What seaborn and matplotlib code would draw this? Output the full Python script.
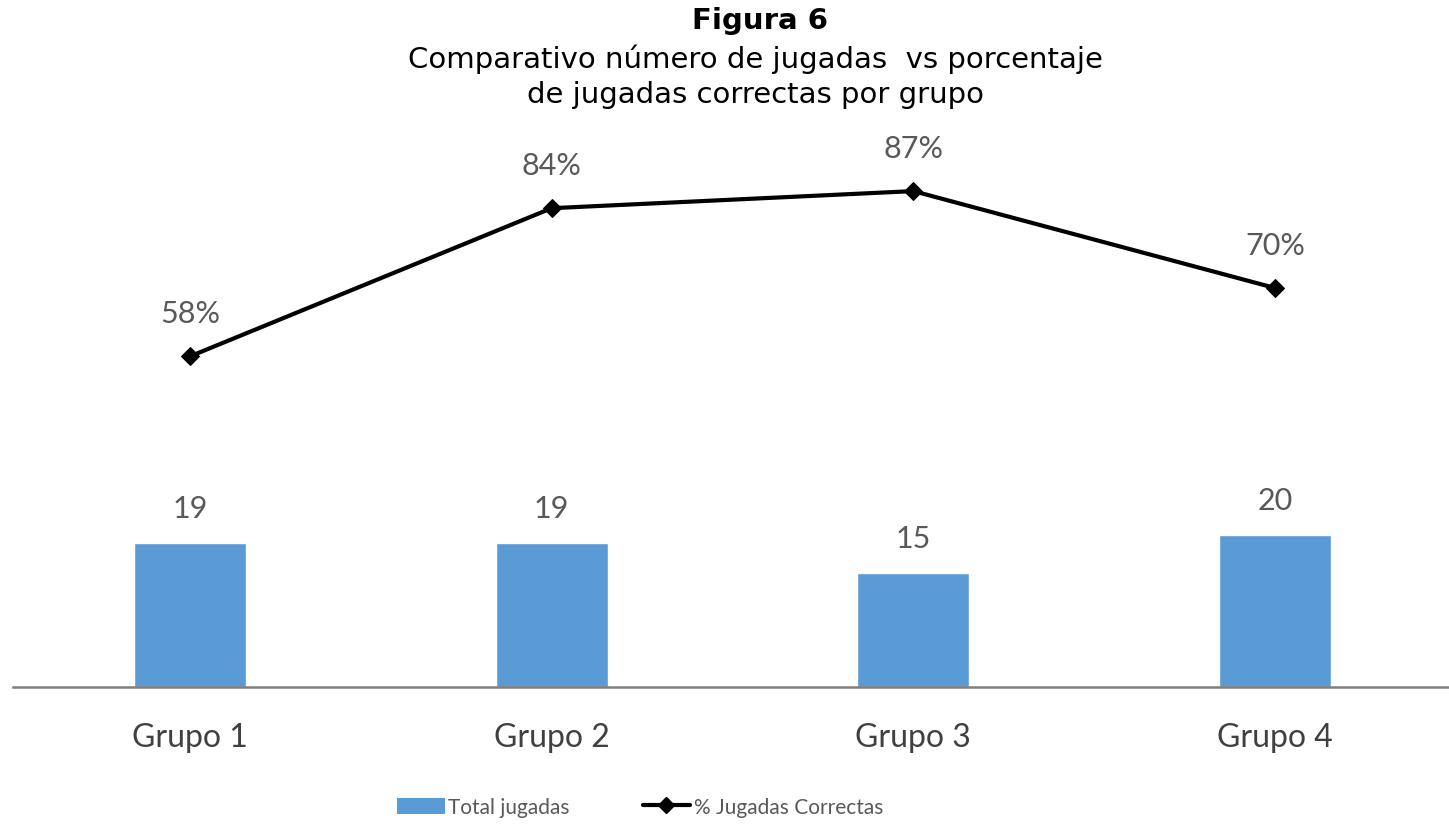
import matplotlib
matplotlib.use("Agg")
import matplotlib.pyplot as plt
import seaborn as sns
import numpy as np
import pandas as pd
from matplotlib.patches import Patch
from matplotlib.lines import Line2D

grupos = ["Grupo 1", "Grupo 2", "Grupo 3", "Grupo 4"]
total_jugadas = [19, 19, 15, 20]
pct_correctas = [58, 84, 87, 70]

titulo = "Figura 6"
subtitulo = "Comparativo número de jugadas  vs porcentaje\nde jugadas correctas por grupo"

sns.set_theme(style="white")
plt.rcParams["font.family"] = ["Lato", "DejaVu Sans"]

W, H = 1449, 828
fig = plt.figure(figsize=(W / 100, H / 100), dpi=100)
ax = fig.add_axes([13 / W, (H - 688) / H, 1 - 13 / W, (688 - 140) / H])

df = pd.DataFrame({"grupo": grupos, "total": total_jugadas, "pct": pct_correctas})

bar_color = "#5B9BD5"
label_color = "#595959"

sns.barplot(data=df, x="grupo", y="total", color=bar_color, width=0.31,
            saturation=1, ax=ax, zorder=2)
ax.set_ylim(0, 548 / 7.6)
ax.set_xlim(-0.489, 3.481)
for i, v in enumerate(total_jugadas):
    ax.annotate(f"{v}", (i, v), xytext=(0, 25), textcoords="offset points",
                ha="center", va="center", fontsize=22, color=label_color)

ax2 = ax.twinx()
xpos = np.arange(len(grupos))
sns.lineplot(x=xpos, y=df["pct"], ax=ax2, color="black", linewidth=3,
             marker="D", markersize=9, markeredgecolor="black", zorder=3)
ax2.set_ylim(0, 548 / 5.70)
for i, v in enumerate(pct_correctas):
    ax2.annotate(f"{v}%", (i, v), xytext=(0, 31), textcoords="offset points",
                 ha="center", va="center", fontsize=22, color=label_color)

for a in (ax, ax2):
    for s in ("top", "right", "left"):
        a.spines[s].set_visible(False)
    a.set_yticks([])
    a.set_ylabel("")
    a.set_xlabel("")
ax2.spines["bottom"].set_visible(False)
ax.spines["bottom"].set_color("#7f7f7f")
ax.spines["bottom"].set_linewidth(1.8)
ax.tick_params(axis="x", length=0, pad=25.5, labelsize=23, labelcolor="#404040")
ax2.tick_params(axis="x", length=0)

fig.text(760 / W, 1 - 21 / H, titulo, ha="center", va="center",
         fontsize=21, fontweight="bold", family="DejaVu Sans", color="black")
fig.text(755 / W, 1 - 77 / H, subtitulo, ha="center", va="center",
         fontsize=21, family="DejaVu Sans", color="black", linespacing=1.3)

handles = [
    Patch(facecolor=bar_color, edgecolor="none", label="Total jugadas"),
    Line2D([0], [0], color="black", linewidth=3, marker="D", markersize=8,
           label="% Jugadas Correctas"),
]
fig.legend(handles=handles, loc="center", bbox_to_anchor=(640 / W, 1 - 808 / H),
           ncol=2, frameon=False, prop={"family": "Lato", "size": 15},
           labelcolor=label_color, handlelength=2.3, handleheight=0.8,
           handletextpad=0.15, columnspacing=3.5)

fig.savefig("out.png", dpi=100)
